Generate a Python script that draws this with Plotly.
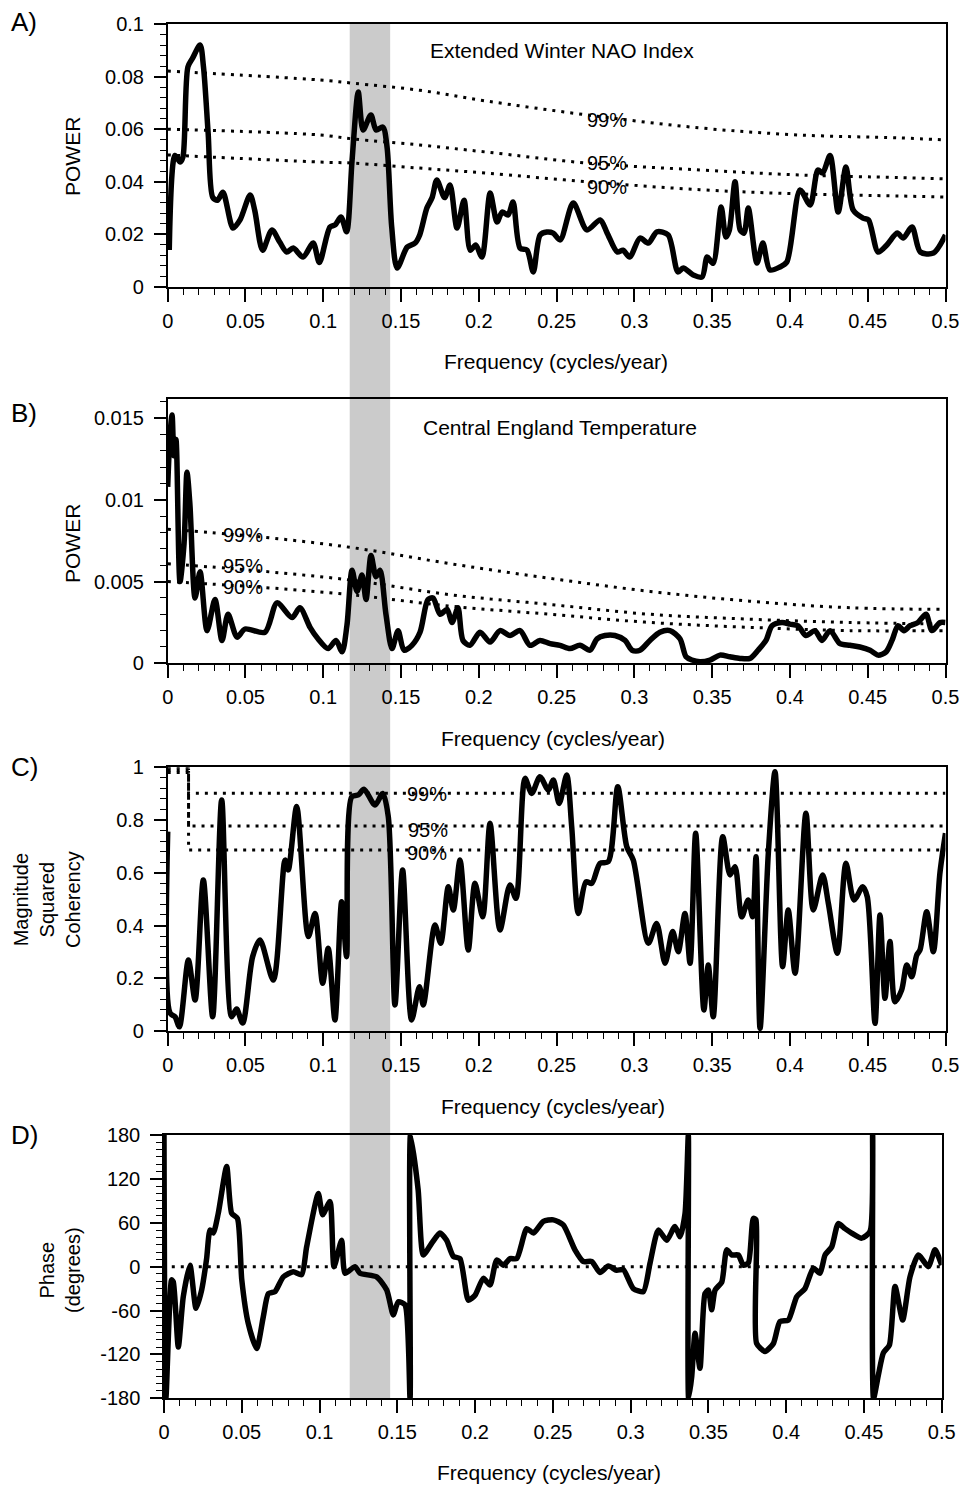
import plotly.graph_objects as go

# ---------------- Panel A: Extended Winter NAO Index power spectrum ----------------
A_freq = [0.001, 0.0047, 0.008, 0.0098, 0.013, 0.016, 0.0208, 0.023, 0.026, 0.029,
          0.032, 0.0355, 0.042, 0.0465, 0.053, 0.056, 0.061, 0.067, 0.072, 0.0765,
          0.0807, 0.087, 0.0935, 0.0975, 0.1043, 0.1076, 0.1114, 0.115, 0.1185, 0.1225,
          0.1256, 0.1306, 0.134, 0.1383, 0.141, 0.144, 0.1475, 0.154, 0.159, 0.162,
          0.1666, 0.170, 0.173, 0.178, 0.1815, 0.186, 0.1905, 0.1945, 0.198, 0.202,
          0.2073, 0.2117, 0.215, 0.2188, 0.222, 0.2265, 0.231, 0.235, 0.2394, 0.2437,
          0.2478, 0.2523, 0.2607, 0.2695, 0.278, 0.2825, 0.289, 0.2927, 0.297, 0.3036,
          0.309, 0.3145, 0.3217, 0.328, 0.3314, 0.3378, 0.3435, 0.3468, 0.3506, 0.3558,
          0.3588, 0.361, 0.3647, 0.368, 0.3705, 0.3732, 0.3788, 0.3826, 0.3871, 0.3935,
          0.398, 0.4065, 0.413, 0.418, 0.421, 0.4258, 0.431, 0.436, 0.4406, 0.447,
          0.4505, 0.4567, 0.4623, 0.469, 0.4728, 0.4785, 0.4838, 0.4922, 0.5]
A_power = [0.0141, 0.050, 0.0475, 0.0494, 0.0837, 0.087, 0.092, 0.0837, 0.0585, 0.034,
           0.033, 0.036, 0.0224, 0.0255, 0.035, 0.029, 0.014, 0.0217, 0.0171, 0.0133,
           0.0148, 0.0114, 0.0167, 0.0093, 0.0228, 0.0236, 0.0266, 0.021, 0.048, 0.0741,
           0.0597, 0.0654, 0.0597, 0.0608, 0.0532, 0.0228, 0.0072, 0.0152, 0.0167, 0.0198,
           0.030, 0.034, 0.0407, 0.034, 0.0388, 0.0224, 0.033, 0.014, 0.016, 0.0114,
           0.0357, 0.0247, 0.0285, 0.0274, 0.0323, 0.0148, 0.014, 0.0057, 0.0198, 0.0209,
           0.0205, 0.0179, 0.0319, 0.0217, 0.0255, 0.0205, 0.0133, 0.014, 0.0114, 0.0186,
           0.0167, 0.021, 0.0198, 0.0057, 0.0072, 0.0046, 0.0038, 0.0114, 0.009, 0.0304,
           0.019, 0.0215, 0.040, 0.0217, 0.0205, 0.030, 0.0091, 0.0167, 0.0065, 0.0076,
           0.0095, 0.0369, 0.0312, 0.0445, 0.0433, 0.050, 0.0285, 0.0456, 0.0293, 0.0262,
           0.0255, 0.0133, 0.016, 0.0205, 0.0186, 0.0228, 0.0133, 0.0129, 0.0198]

A_sig_freq = [0.0, 0.098, 0.119, 0.162, 0.205, 0.27, 0.342, 0.406, 0.47, 0.5]
A_sig99 = [0.0821, 0.0787, 0.0775, 0.0748, 0.0707, 0.0654, 0.0605, 0.0578, 0.0567, 0.0559]
A_sig95 = [0.0600, 0.0578, 0.0563, 0.0540, 0.0513, 0.0471, 0.0445, 0.0426, 0.0416, 0.0411]
A_sig90 = [0.0502, 0.0475, 0.0471, 0.0452, 0.0433, 0.0400, 0.0370, 0.0354, 0.0346, 0.0342]

# ---------------- Panel B: Central England Temperature power spectrum ----------------
B_freq = [0.0, 0.0015, 0.0028, 0.004, 0.0053, 0.0079, 0.0105, 0.0124, 0.0143, 0.0176,
          0.0208, 0.0253, 0.0304, 0.0349, 0.0388, 0.0446, 0.0497, 0.0625, 0.0703, 0.0799,
          0.0850, 0.0915, 0.0966, 0.1031, 0.1082, 0.1121, 0.1152, 0.1185, 0.1217, 0.1249,
          0.1275, 0.1307, 0.1339, 0.1365, 0.1403, 0.1442, 0.1481, 0.1519, 0.1570, 0.1622,
          0.1673, 0.1706, 0.1751, 0.1796, 0.1828, 0.1866, 0.1898, 0.1943, 0.2008, 0.2072,
          0.2136, 0.2200, 0.2265, 0.2329, 0.2393, 0.2458, 0.2522, 0.2586, 0.2650, 0.2715,
          0.2760, 0.2811, 0.2875, 0.2940, 0.2985, 0.3036, 0.3100, 0.3164, 0.3229, 0.3293,
          0.3332, 0.3370, 0.3422, 0.3486, 0.3550, 0.3614, 0.3679, 0.3743, 0.3795, 0.3846,
          0.3885, 0.3949, 0.4000, 0.4052, 0.4103, 0.4161, 0.4206, 0.4258, 0.4322, 0.4386,
          0.4450, 0.4515, 0.4566, 0.4618, 0.4656, 0.4695, 0.4733, 0.4772, 0.4823, 0.4875,
          0.4913, 0.4965, 0.5]
B_power = [0.0108, 0.0140, 0.0152, 0.0127, 0.0137, 0.0050, 0.0073, 0.0117, 0.0097, 0.0040,
           0.0056, 0.0020, 0.0039, 0.0014, 0.0030, 0.0016, 0.0021, 0.0019, 0.0037, 0.0028,
           0.0034, 0.0022, 0.0015, 0.0009, 0.0014, 0.0007, 0.0023, 0.0057, 0.0044, 0.0054,
           0.0039, 0.0066, 0.0053, 0.0057, 0.0030, 0.0009, 0.0020, 0.0008, 0.0011, 0.0019,
           0.0039, 0.0040, 0.0030, 0.0033, 0.0025, 0.0034, 0.0014, 0.0011, 0.0019, 0.0013,
           0.0020, 0.0017, 0.0020, 0.0011, 0.0014, 0.0012, 0.0011, 0.0009, 0.0011, 0.0008,
           0.0015, 0.0017, 0.0017, 0.0014, 0.0008, 0.0008, 0.0014, 0.0019, 0.0020, 0.0015,
           0.0004, 0.0002, 0.0001, 0.0002, 0.0005, 0.0004, 0.0003, 0.0003, 0.0008, 0.0014,
           0.0023, 0.0025, 0.0024, 0.0023, 0.0017, 0.0020, 0.0014, 0.0020, 0.0012, 0.0011,
           0.0010, 0.0008, 0.0005, 0.0007, 0.0014, 0.0023, 0.0020, 0.0023, 0.0025, 0.0030,
           0.0020, 0.0025, 0.0025]

B_sig_freq = [0.0, 0.0529, 0.1172, 0.1815, 0.2458, 0.3101, 0.3744, 0.4387, 0.5]
B_sig99 = [0.0082, 0.0078, 0.0071, 0.0061, 0.0052, 0.0044, 0.0038, 0.0034, 0.0033]
B_sig95 = [0.0061, 0.0057, 0.0051, 0.0042, 0.0036, 0.0030, 0.0027, 0.0025, 0.0024]
B_sig90 = [0.0050, 0.0047, 0.0042, 0.0035, 0.0030, 0.0025, 0.0022, 0.0020, 0.0020]

# ---------------- Panel C: magnitude squared coherency ----------------
C_freq = [0.0, 0.0015, 0.0047, 0.0075, 0.0133, 0.0176, 0.0229, 0.0289, 0.0347, 0.0411,
          0.0443, 0.0482, 0.0546, 0.0593, 0.0679, 0.0754, 0.0775, 0.0829, 0.0904, 0.0947,
          0.0996, 0.1032, 0.1075, 0.1118, 0.115, 0.1183, 0.1225, 0.1262, 0.1333, 0.1382,
          0.1418, 0.1461, 0.151, 0.1568, 0.1618, 0.1643, 0.1718, 0.1755, 0.1804, 0.1836,
          0.1879, 0.1932, 0.1975, 0.2025, 0.2072, 0.2136, 0.22, 0.2239, 0.2297, 0.234,
          0.2393, 0.2447, 0.2479, 0.2517, 0.2565, 0.2597, 0.264, 0.2689, 0.2726, 0.2779,
          0.2832, 0.2893, 0.2951, 0.2993, 0.309, 0.3143, 0.3197, 0.3246, 0.3282, 0.3325,
          0.3358, 0.3394, 0.3447, 0.3475, 0.3507, 0.3568, 0.3615, 0.3647, 0.369, 0.3732,
          0.376, 0.3782, 0.3808, 0.3861, 0.3904, 0.3953, 0.3989, 0.4033, 0.4103, 0.415,
          0.421, 0.4247, 0.4305, 0.436, 0.4412, 0.4468, 0.4497, 0.4547, 0.4579, 0.4611,
          0.4643, 0.4675, 0.4718, 0.4751, 0.4783, 0.4815, 0.4836, 0.4879, 0.4922, 0.4964,
          0.5]
C_coh = [0.756, 0.068, 0.054, 0.016, 0.269, 0.118, 0.573, 0.054, 0.876, 0.054,
         0.083, 0.030, 0.282, 0.345, 0.193, 0.648, 0.611, 0.851, 0.358, 0.446,
         0.181, 0.314, 0.042, 0.490, 0.282, 0.888, 0.895, 0.917, 0.857, 0.901,
         0.813, 0.099, 0.611, 0.042, 0.168, 0.099, 0.402, 0.333, 0.547, 0.459,
         0.648, 0.307, 0.560, 0.433, 0.788, 0.383, 0.554, 0.503, 0.958, 0.901,
         0.964, 0.914, 0.952, 0.863, 0.971, 0.775, 0.446, 0.566, 0.560, 0.636,
         0.642, 0.926, 0.699, 0.648, 0.333, 0.408, 0.257, 0.377, 0.301, 0.446,
         0.257, 0.750, 0.080, 0.250, 0.054, 0.737, 0.592, 0.623, 0.433, 0.497,
         0.433, 0.661, 0.010, 0.674, 0.983, 0.244, 0.459, 0.219, 0.826, 0.459,
         0.592, 0.484, 0.295, 0.636, 0.497, 0.547, 0.509, 0.029, 0.440, 0.124,
         0.339, 0.111, 0.155, 0.250, 0.206, 0.288, 0.307, 0.452, 0.301, 0.598,
         0.750]

C_sig99_freq = [0.0, 0.0134, 0.0134, 0.5]
C_sig99 = [1.0, 1.0, 0.902, 0.902]
C_sig95_freq = [0.0, 0.0134, 0.0134, 0.5]
C_sig95 = [0.99, 0.99, 0.777, 0.777]
C_sig90_freq = [0.0, 0.0134, 0.0134, 0.5]
C_sig90 = [0.98, 0.98, 0.686, 0.686]

# ---------------- Panel D: phase ----------------
D_freq = [0.0, 0.0012, 0.0049, 0.006, 0.0092, 0.0124, 0.0167, 0.0206, 0.0242, 0.0274,
          0.0296, 0.0317, 0.0349, 0.0403, 0.0435, 0.0472, 0.05, 0.0542, 0.0596, 0.0638,
          0.0671, 0.0714, 0.0767, 0.0831, 0.0885, 0.0917, 0.0992, 0.102, 0.1067, 0.1093,
          0.1142, 0.1164, 0.1228, 0.126, 0.1367, 0.1432, 0.1474, 0.1506, 0.1549, 0.1582,
          0.1585, 0.1634, 0.1667, 0.1721, 0.1774, 0.1817, 0.186, 0.1903, 0.1957, 0.2,
          0.2053, 0.2096, 0.2139, 0.2182, 0.2225, 0.2268, 0.2332, 0.2375, 0.2439, 0.2503,
          0.2567, 0.2642, 0.2696, 0.275, 0.2803, 0.2857, 0.291, 0.2953, 0.3017, 0.3082,
          0.3125, 0.3178, 0.3232, 0.3285, 0.3318, 0.335, 0.3371, 0.3373, 0.3393, 0.3414,
          0.3446, 0.3478, 0.35, 0.3521, 0.3543, 0.3586, 0.3618, 0.365, 0.3692, 0.3725,
          0.3757, 0.3789, 0.3806, 0.381, 0.3864, 0.3918, 0.396, 0.4014, 0.4068, 0.4121,
          0.4175, 0.4218, 0.425, 0.4293, 0.4335, 0.4378, 0.4421, 0.4486, 0.4539, 0.4556,
          0.4562, 0.4593, 0.4625, 0.4664, 0.47, 0.4749, 0.4796, 0.485, 0.4914, 0.4957,
          0.5]
D_phase = [180, -180, -18, -21, -110, -41, 2, -57, -32, 11,
           50, 46, 73, 137, 73, 66, -18, -78, -112, -69,
           -37, -34, -14, -7, -11, 27, 100, 71, 89, 0,
           36, -9, 0, -9, -14, -32, -66, -48, -52, -180,
           180, 105, 16, 32, 46, 36, 14, 11, -46, -39,
           -16, -25, 9, 2, 11, 11, 52, 46, 62, 64,
           57, 23, 7, 7, -8, 1, -5, -4, -30, -34,
           5, 50, 36, 55, 41, 73, 180, -180, -150, -91,
           -139, -37, -32, -59, -32, -21, 23, 16, 16, 2,
           5, 66, 64, -105, -116, -105, -75, -73, -41, -30,
           -2, -9, 16, 27, 59, 52, 46, 39, 48, 180,
           -180, -148, -118, -107, -27, -73, -14, 16, 0, 23,
           2]
D_zero_freq = [0.005, 0.5]
D_zero = [0, 0]

# highlighted frequency band (cycles/year)
band = [0.117, 0.143]

x_ticks = [0, 0.05, 0.1, 0.15, 0.2, 0.25, 0.3, 0.35, 0.4, 0.45, 0.5]
D_ticks = [-180, -120, -60, 0, 60, 120, 180]
D_ticklabels = ["-180", "-120", "-60", "0", "60", "120", "180"]

W, H = 963, 1487
FONT = "Liberation Sans, Arial, Helvetica, sans-serif"


def px(x):
    return x / W


def py(y):
    return 1 - y / H


fig = go.Figure()

curve = dict(color="black", width=5.5)
dotted = dict(color="black", width=3, dash="3px,6px")

fig.add_trace(go.Scatter(x=A_freq, y=A_power, mode="lines", line=dict(curve, shape="spline", smoothing=0.8),
                         xaxis="x", yaxis="y"))
for s in (A_sig99, A_sig95, A_sig90):
    fig.add_trace(go.Scatter(x=A_sig_freq, y=s, mode="lines", line=dict(dotted, shape="spline"),
                             xaxis="x", yaxis="y"))

fig.add_trace(go.Scatter(x=B_freq, y=B_power, mode="lines", line=dict(curve, shape="spline", smoothing=0.8),
                         xaxis="x2", yaxis="y2"))
for s in (B_sig99, B_sig95, B_sig90):
    fig.add_trace(go.Scatter(x=B_sig_freq, y=s, mode="lines", line=dict(dotted, shape="spline"),
                             xaxis="x2", yaxis="y2"))

fig.add_trace(go.Scatter(x=C_freq, y=C_coh, mode="lines", line=dict(curve, shape="spline", smoothing=0.8),
                         xaxis="x3", yaxis="y3"))
for fx, s in ((C_sig99_freq, C_sig99), (C_sig95_freq, C_sig95), (C_sig90_freq, C_sig90)):
    fig.add_trace(go.Scatter(x=fx, y=s, mode="lines", line=dotted, xaxis="x3", yaxis="y3"))

fig.add_trace(go.Scatter(x=D_zero_freq, y=D_zero, mode="lines", line=dotted, xaxis="x4", yaxis="y4"))
fig.add_trace(go.Scatter(x=D_freq, y=D_phase, mode="lines", line=dict(curve, shape="spline", smoothing=0.6),
                         xaxis="x4", yaxis="y4"))

tickfont = dict(family=FONT, size=20, color="black")


def xax(domain, anchor):
    return dict(domain=domain, anchor=anchor, range=[0, 0.5], tickvals=x_ticks,
                ticks="outside", ticklen=13, tickwidth=1.5, tickcolor="black",
                showline=True, linecolor="black", linewidth=1.5, mirror=True,
                showgrid=False, zeroline=False, tickfont=tickfont, ticklabelstandoff=2,
                automargin=False,
                minor=dict(dtick=0.01, tick0=0, ticks="outside", ticklen=6, tickwidth=1.2,
                           tickcolor="black", showgrid=False))


def yax(domain, anchor, rng, dtick, mdtick, **kw):
    d = dict(domain=domain, anchor=anchor, range=rng, dtick=dtick, tick0=0,
             ticks="outside", ticklen=12, tickwidth=1.5, tickcolor="black",
             showline=True, linecolor="black", linewidth=1.5, mirror=True,
             showgrid=False, zeroline=False, tickfont=tickfont, ticklabelstandoff=6,
             automargin=False,
             minor=dict(dtick=mdtick, tick0=0, ticks="outside", ticklen=6, tickwidth=1.2,
                        tickcolor="black", showgrid=False))
    d.update(kw)
    return d


dom_x = [px(167.7), px(945.5)]
dom_xD = [px(164), px(941.7)]
dA = [py(287), py(24)]
dB = [py(663.3), py(399.3)]
dC = [py(1031), py(767.3)]
dD = [py(1398.3), py(1135)]

fig.update_layout(
    width=W, height=H, margin=dict(l=0, r=0, t=0, b=0, pad=0, autoexpand=False),
    paper_bgcolor="white", plot_bgcolor="rgba(0,0,0,0)", showlegend=False,
    font=dict(family=FONT, size=20, color="black"),
    xaxis=xax(dom_x, "y"), yaxis=yax(dA, "x", [0, 0.1], 0.02, 0.004),
    xaxis2=xax(dom_x, "y2"), yaxis2=yax(dB, "x2", [0, 0.01616], 0.005, 0.001),
    xaxis3=xax(dom_x, "y3"), yaxis3=yax(dC, "x3", [0, 1], 0.2, 0.04),
    xaxis4=xax(dom_xD, "y4"),
    yaxis4=yax(dD, "x4", [-180, 180], 60, 10, tickvals=D_ticks, ticktext=D_ticklabels),
)

fig.add_shape(type="rect", xref="x", yref="paper", x0=band[0], x1=band[1],
              y0=dD[0], y1=dA[1], fillcolor="#cbcbcb", line=dict(width=0), layer="below")

ann = []


def text(x, y, t, size=20, angle=0, xanchor="center"):
    ann.append(dict(x=px(x), y=py(y), xref="paper", yref="paper", text=t, showarrow=False,
                    font=dict(family=FONT, size=size, color="black"), textangle=angle,
                    xanchor=xanchor, yanchor="middle"))


# panel letters
text(24, 22, "A)", 26)
text(24, 413, "B)", 26)
text(24, 767, "C)", 26)
text(24, 1135, "D)", 26)
# titles
text(562, 50, "Extended Winter NAO Index", 21)
text(560, 427, "Central England Temperature", 21)
# x axis titles
text(556, 362, "Frequency (cycles/year)", 21)
text(553, 738, "Frequency (cycles/year)", 21)
text(553, 1106, "Frequency (cycles/year)", 21)
text(549, 1472, "Frequency (cycles/year)", 21)
# y axis titles
text(73, 157, "POWER", 21, -90)
text(73, 544, "POWER", 21, -90)
text(47, 900, "Magnitude<br>Squared<br>Coherency", 20, -90)
text(60, 1270, "Phase<br>(degrees)", 20, -90)
# significance labels
text(607, 120, "99%", 20)
text(607, 163, "95%", 20)
text(607, 187, "90%", 20)
text(243, 535, "99%", 20)
text(243, 566, "95%", 20)
text(243, 587, "90%", 20)
text(427, 794, "99%", 20)
text(428, 830, "95%", 20)
text(427, 853, "90%", 20)

fig.update_layout(annotations=ann)
fig.write_html("out.html")
